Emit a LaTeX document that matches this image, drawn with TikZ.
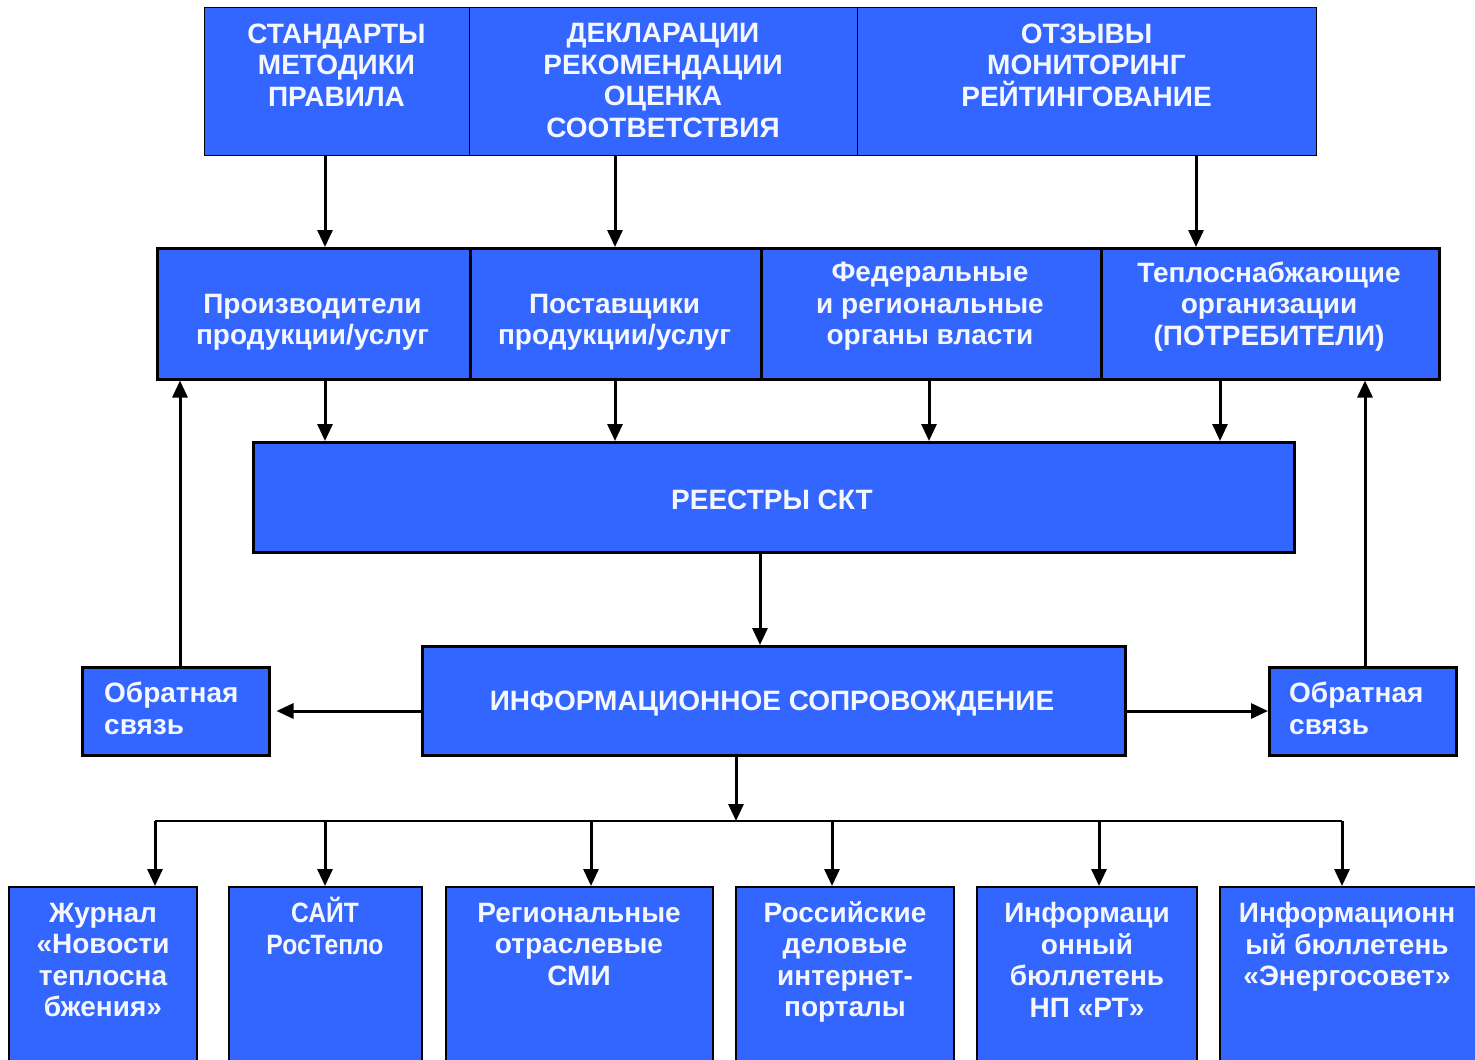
\documentclass[tikz,border=0pt]{standalone}
\usepackage{fontspec}
\setmainfont{Liberation Sans}
\usetikzlibrary{arrows.meta}
\definecolor{boxblue}{RGB}{51,102,255}
\definecolor{txtwhite}{RGB}{245,247,255}
\begin{document}
\begin{tikzpicture}[x=1pt,y=-1pt,
  box/.style={draw=black, line width=2.5pt, fill=boxblue, inner sep=0pt, anchor=north west},
  thinbox/.style={box, line width=1.3pt},
  txt/.style={text=txtwhite, font=\bfseries\fontsize{28}{31.5}\selectfont, align=center, inner sep=0pt},
  arr/.style={line width=3pt, -{Triangle[length=17pt,width=15pt]}},
  barline/.style={line width=2pt},
]
\useasboundingbox (0,0) rectangle (1475,1060);
\clip (0,0) rectangle (1475,1060);
\fill[white] (0,0) rectangle (1475,1060);

% top row
\node[thinbox, minimum width=265pt, minimum height=148pt] (t1) at (204,7) {};
\node[thinbox, minimum width=388pt, minimum height=148pt] (t2) at (469,7) {};
\node[thinbox, minimum width=459pt, minimum height=148pt] (t3) at (857,7) {};
\node[txt] (t1t) at (336.5,65) {СТАНДАРТЫ\\МЕТОДИКИ\\ПРАВИЛА};
\node[txt] (t2t) at (663,80.5) {ДЕКЛАРАЦИИ\\РЕКОМЕНДАЦИИ\\ОЦЕНКА\\СООТВЕТСТВИЯ};
\node[txt] (t3t) at (1086.5,65) {ОТЗЫВЫ\\МОНИТОРИНГ\\РЕЙТИНГОВАНИЕ};

% second row
\node[box, minimum width=313pt, minimum height=131pt] (r1) at (156,247) {};
\node[box, minimum width=291pt, minimum height=131pt] (r2) at (469,247) {};
\node[box, minimum width=340pt, minimum height=131pt] (r3) at (760,247) {};
\node[box, minimum width=338pt, minimum height=131pt] (r4) at (1100,247) {};
\node[txt] (r1t) at (312.5,322.5) {Производители\\продукции/услуг};
\node[txt] (r2t) at (614.5,322.5) {Поставщики\\продукции/услуг};
\node[txt] (r3t) at (930,306.5) {Федеральные\\и региональные\\органы власти};
\node[txt] (r4t) at (1269,306.5) {Теплоснабжающие\\организации\\(ПОТРЕБИТЕЛИ)};

% registry
\node[box, minimum width=1041pt, minimum height=110pt] (reg) at (252,441) {};
\node[txt] (regt) at (772,500) {РЕЕСТРЫ СКТ};

% info
\node[box, minimum width=703pt, minimum height=109pt] (info) at (421,645) {};
\node[txt] (infot) at (772,704) {ИНФОРМАЦИОННОЕ СОПРОВОЖДЕНИЕ};

% feedback
\node[box, minimum width=187pt, minimum height=88pt] (fbL) at (81,666) {};
\node[box, minimum width=187pt, minimum height=88pt] (fbR) at (1268,666) {};
\node[txt, align=left, anchor=west] (fbLt) at (104,708.5) {Обратная\\связь};
\node[txt, align=left, anchor=west] (fbRt) at (1289,708.5) {Обратная\\связь};

% bottom row
\node[box, line width=2pt, minimum width=188pt, minimum height=220pt] (b1) at (8,886) {};
\node[box, line width=2pt, minimum width=193pt, minimum height=220pt] (b2) at (228,886) {};
\node[box, line width=2pt, minimum width=267pt, minimum height=220pt] (b3) at (445,886) {};
\node[box, line width=2pt, minimum width=218pt, minimum height=220pt] (b4) at (735,886) {};
\node[box, line width=2pt, minimum width=220pt, minimum height=220pt] (b5) at (976,886) {};
\node[box, line width=2pt, minimum width=290pt, minimum height=220pt] (b6) at (1219,886) {};
\node[txt] (b1t) at (103,960) {Журнал\\«Новости\\теплосна\\бжения»};
\node[txt] (b2t) at (325,926) {\scalebox{0.88}[1]{САЙТ}\\\scalebox{0.88}[1]{РосТепло}};
\node[txt] (b3t) at (579,944) {Региональные\\отраслевые\\СМИ};
\node[txt] (b4t) at (845,962) {Российские\\деловые\\интернет-\\порталы};
\node[txt] (b5t) at (1087,960) {Информаци\\онный\\бюллетень\\НП «РТ»};
\node[txt] (b6t) at (1347,947) {Информационн\\ый бюллетень\\«Энергосовет»};

% helper coordinates
\coordinate (a1) at (325,0);
\coordinate (a2) at (615,0);
\coordinate (a3) at (1196,0);
\coordinate (a4) at (929,0);
\coordinate (a5) at (1220,0);
\coordinate (a6) at (760,0);
\coordinate (fl) at (180,0);
\coordinate (fr) at (1365,0);
\coordinate (ya) at (0,711);
\coordinate (ai) at (736,0);
\coordinate (bar) at (736,821);
\coordinate (d1) at (155,821);
\coordinate (d2) at (325,821);
\coordinate (d3) at (591,821);
\coordinate (d4) at (832,821);
\coordinate (d5) at (1099,821);
\coordinate (d6) at (1342,821);

% connectors
\draw[arr] (t1.south -| a1) -- (r1.north -| a1);
\draw[arr] (t2.south -| a2) -- (r2.north -| a2);
\draw[arr] (t3.south -| a3) -- (r4.north -| a3);

\draw[arr] (r1.south -| a1) -- (reg.north -| a1);
\draw[arr] (r2.south -| a2) -- (reg.north -| a2);
\draw[arr] (r3.south -| a4) -- (reg.north -| a4);
\draw[arr] (r4.south -| a5) -- (reg.north -| a5);

\draw[arr] (reg.south -| a6) -- (info.north -| a6);

\draw[arr, shorten >=6pt] (info.west |- ya) -- (fbL.east |- ya);
\draw[arr] (info.east |- ya) -- (fbR.west |- ya);

\draw[arr] (fbL.north -| fl) -- (r1.south -| fl);
\draw[arr] (fbR.north -| fr) -- (r4.south -| fr);

\draw[arr] (info.south -| ai) -- (bar);
\draw[barline] (d1) -- (d6);
\draw[arr] (d1) -- (b1.north -| d1);
\draw[arr] (d2) -- (b2.north -| d2);
\draw[arr] (d3) -- (b3.north -| d3);
\draw[arr] (d4) -- (b4.north -| d4);
\draw[arr] (d5) -- (b5.north -| d5);
\draw[arr] (d6) -- (b6.north -| d6);
\end{tikzpicture}
\end{document}
